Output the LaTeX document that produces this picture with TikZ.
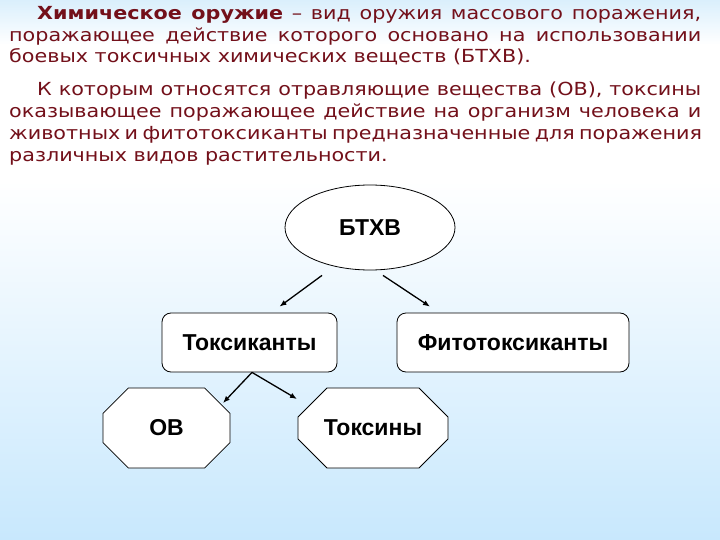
\documentclass[tikz,border=0pt]{standalone}
\usepackage{fontspec}
\setmainfont{DejaVu Sans}[FakeStretch=1.15]
\newfontfamily\labelfont{Liberation Sans}
\usetikzlibrary{shapes.geometric,shapes.misc,arrows.meta,calc}
\definecolor{txtred}{RGB}{115,16,26}
\definecolor{bgblue}{RGB}{200,232,253}
\definecolor{bgtop}{RGB}{218,239,252}
\tikzset{
  ln/.style={anchor=base west, inner sep=0pt, text=txtred, font=\fontsize{18}{21}\selectfont},
  lbl/.style={font=\labelfont\bfseries\fontsize{23}{26}\selectfont, text=black},
  rbox/.style={lbl, draw=black, line width=0.8pt, fill=white, rounded corners=9pt, minimum height=59pt},
  octo/.style={lbl, draw=black, line width=0.8pt, fill=white, chamfered rectangle, chamfered rectangle xsep=21pt, chamfered rectangle ysep=21pt, minimum width=127pt, minimum height=80pt, inner sep=0pt},
  oval/.style={lbl, draw=black, line width=0.8pt, fill=white, ellipse, minimum width=170pt, minimum height=85pt, inner sep=0pt},
  arr/.style={line width=1.3pt, -{Latex[length=7pt,width=5.5pt]}}
}
\begin{document}
\begin{tikzpicture}[x=1pt,y=-1pt]
\useasboundingbox (0,0) rectangle (720,540);
\shade[top color=bgtop,bottom color=white] (0,0) rectangle (720,45);
\fill[white] (0,44) rectangle (720,181);
\shade[top color=white,bottom color=bgblue] (0,180) rectangle (720,540);

\node[ln] (l1) at (37,20) {\makebox[664pt][s]{\textbf{Химическое оружие} – вид оружия массового поражения,}};
\node[ln] (l2) at (9,41.5) {\makebox[692pt][s]{поражающее действие которого основано на использовании}};
\node[ln] (l3) at (9,63) {боевых токсичных химических веществ (БТХВ).};
\node[ln] (l4) at (37,96) {\makebox[664pt][s]{К которым относятся отравляющие вещества (ОВ), токсины}};
\node[ln] (l5) at (9,118) {\makebox[692pt][s]{оказывающее поражающее действие на организм человека и}};
\node[ln] (l6) at (9,140) {\makebox[692pt][s]{животных и фитотоксиканты предназначенные для поражения}};
\node[ln] (l7) at (9,162) {различных видов растительности.};

\node[oval] (btxv) at (370,227.5) {БТХВ};
\node[rbox, minimum width=175pt] (tox) at (249.5,342.5) {Токсиканты};
\node[rbox, minimum width=232pt] (fito) at (513,342.5) {Фитотоксиканты};
\node[octo] (ov) at (166.5,428) {ОВ};
\node[octo, minimum width=150pt] (toxins) at (373,428) {Токсины};

\coordinate (a1s) at ($(btxv.south)+(-48,5)$);
\coordinate (a1e) at ($(tox.north)+(30,-6)$);
\coordinate (a2s) at ($(btxv.south)+(13,5)$);
\coordinate (a2e) at ($(fito.north)+(-83,-6)$);
\coordinate (a3s) at ($(tox.south)+(2.5,0)$);
\coordinate (a3e) at ($(ov.center)+(56.5,-25)$);
\coordinate (a4e) at ($(toxins.center)+(-76,-29)$);

\draw[arr] (a1s) -- (a1e);
\draw[arr] (a2s) -- (a2e);
\draw[arr] (a3s) -- (a3e);
\draw[arr] (a3s) -- (a4e);
\end{tikzpicture}
\end{document}
